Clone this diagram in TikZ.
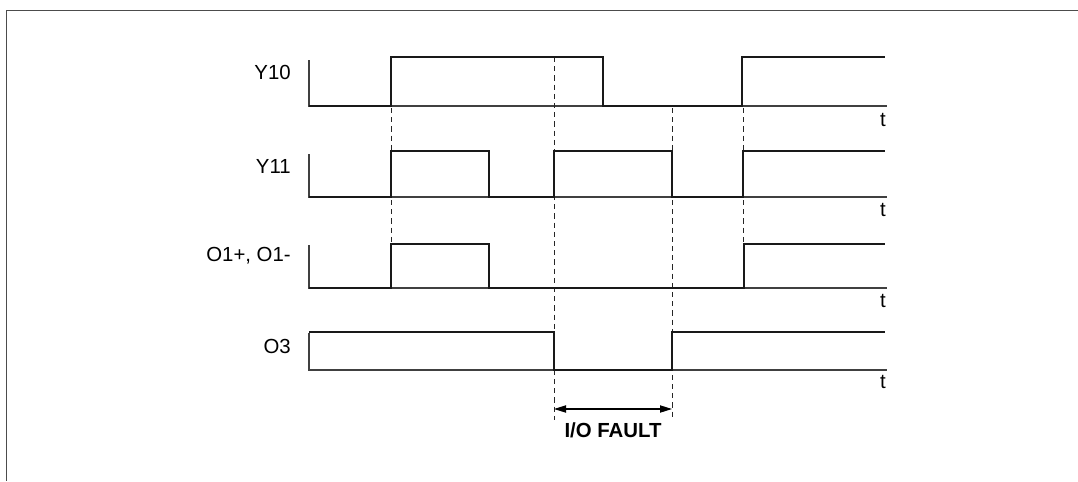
\documentclass[tikz,border=0pt]{standalone}
\usepackage{fontspec}
\setmainfont{Liberation Sans}
\usetikzlibrary{arrows.meta}

\begin{document}
\begin{tikzpicture}[x=0.25mm,y=-0.25mm,
	sig/.style={line width=0.7mm,black!90},
	axis/.style={line width=0.3mm,black!75},
	guide/.style={line width=0.25mm,black!85,dash pattern=on 1.3mm off 1mm},
	every node/.style={inner sep=0pt,font=\fontsize{14.5}{17}\selectfont}]
	\useasboundingbox (0,0) rectangle (1078,481);
	\draw [line width=0.4mm,black!70] (1078,10.5) -- (6.5,10.5) -- (6.5,481);

	\node [anchor=base east] (y10) at (291,79) {Y10};
	\node [anchor=base east] (y11) at (291,173) {Y11};
	\node [anchor=base east] (o1) at (291,261) {O1+, O1-};
	\node [anchor=base east] (o3) at (291,353) {O3};
	\node [anchor=base east] (t1) at (886,126) {t};
	\node [anchor=base east] (t2) at (886,216) {t};
	\node [anchor=base east] (t3) at (886,307) {t};
	\node [anchor=base east] (t4) at (886,388) {t};

	\draw [axis] (309,60) -- (309,106) -- (887,106);
	\draw [axis] (309,154) -- (309,197) -- (887,197);
	\draw [axis] (309,245) -- (309,288) -- (887,288);
	\draw [axis] (309,333) -- (309,370) -- (887,370);

	\draw [guide] (391,108) -- (391,244);
	\draw [guide] (554,57) -- (554,420);
	\draw [guide] (672,108) -- (672,420);
	\draw [guide] (743,108) -- (743,244);

	\draw [sig] (309,106) -- (391,106) -- (391,57) -- (603,57) -- (603,106) -- (742,106) -- (742,57) -- (885,57);
	\draw [sig] (309,197) -- (391,197) -- (391,151) -- (489,151) -- (489,197) -- (554,197) -- (554,151) -- (672,151) -- (672,197) -- (743,197) -- (743,151) -- (885,151);
	\draw [sig] (309,288) -- (391,288) -- (391,244) -- (489,244) -- (489,288) -- (744,288) -- (744,244) -- (885,244);
	\draw [sig] (309,332) -- (554,332) -- (554,370) -- (672,370) -- (672,332) -- (885,332);

	\coordinate (fa) at (554,409);
	\coordinate (fb) at (672,409);
	\draw [line width=0.3mm,{Triangle[length=3mm,width=1.8mm]}-{Triangle[length=3mm,width=1.8mm]}] (fa) -- (fb);
	\node [anchor=base,font=\fontsize{14.5}{17}\selectfont\bfseries] (fault) at (613,437) {I/O FAULT};
\end{tikzpicture}
\end{document}
